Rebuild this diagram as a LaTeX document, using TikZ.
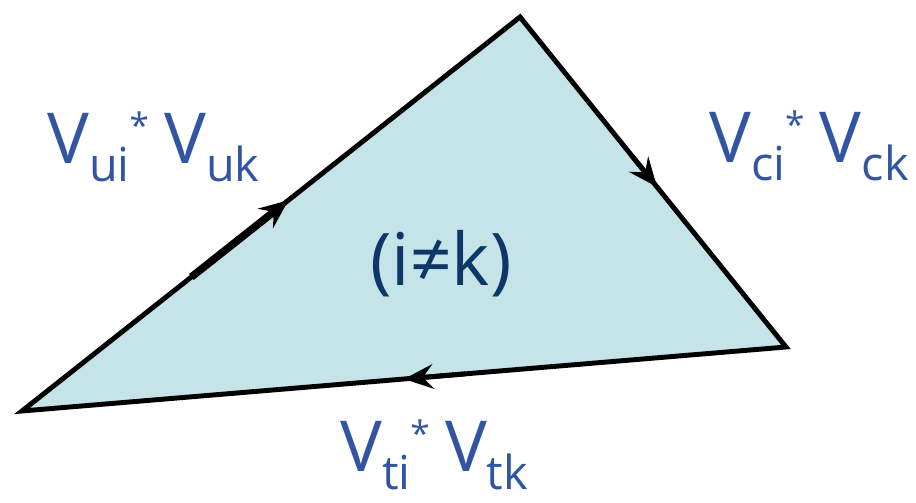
\documentclass[tikz,border=0pt]{standalone}
\usepackage{fontspec}
\setmainfont{Open Sans}
\usetikzlibrary{calc,arrows.meta}
\definecolor{trifill}{HTML}{C4E4E7}
\definecolor{labelblue}{HTML}{3155A3}
\definecolor{navy}{HTML}{0D3768}
\newcommand{\vpair}[2]{%
  {\fontsize{60}{60}\selectfont V}%
  \raisebox{-16pt}{\fontsize{40}{40}\selectfont #1}%
  \raisebox{21pt}{\fontsize{30}{30}\selectfont *}%
  \hspace{13pt}%
  {\fontsize{60}{60}\selectfont V}%
  \raisebox{-16pt}{\fontsize{40}{40}\selectfont #2}}
\tikzset{
  edge/.style={line width=4.2pt, line join=miter},
  midarrow/.style={line width=4.2pt,
    -{Stealth[length=25pt, width=21pt, inset=9pt]}},
  vlabel/.style={anchor=base west, inner sep=0pt, text=labelblue}
}
\begin{document}
\begin{tikzpicture}[x=0.03cm,y=-0.03cm]
            \useasboundingbox (0,0) rectangle (916,503);
            \coordinate (A) at (22,411);
            \coordinate (B) at (520,17);
            \coordinate (C) at (786,347);
            \filldraw[edge,fill=trifill] (A)--(B)--(C)--cycle;
            % direction marks on the sides
            \draw[midarrow,line width=6.5pt] ($(A)!0.34!(B)$)--($(A)!0.535!(B)$);
            \draw[midarrow] ($(B)!0.42!(C)$)--($(B)!0.515!(C)$);
            \draw[midarrow] ($(C)!0.42!(A)$)--($(C)!0.50!(A)$);
            \node[vlabel] (uu) at (47,163) {\vpair{ui}{uk}};
            \node[vlabel] (cc) at (709,162) {\vpair{ci}{ck}};
            \node[vlabel] (tt) at (340,471) {\vpair{ti}{tk}};
            \node[text=navy,font=\fontsize{62}{62}\selectfont] (ik) at (441,264) {(i≠k)};
        \end{tikzpicture}
\end{document}
